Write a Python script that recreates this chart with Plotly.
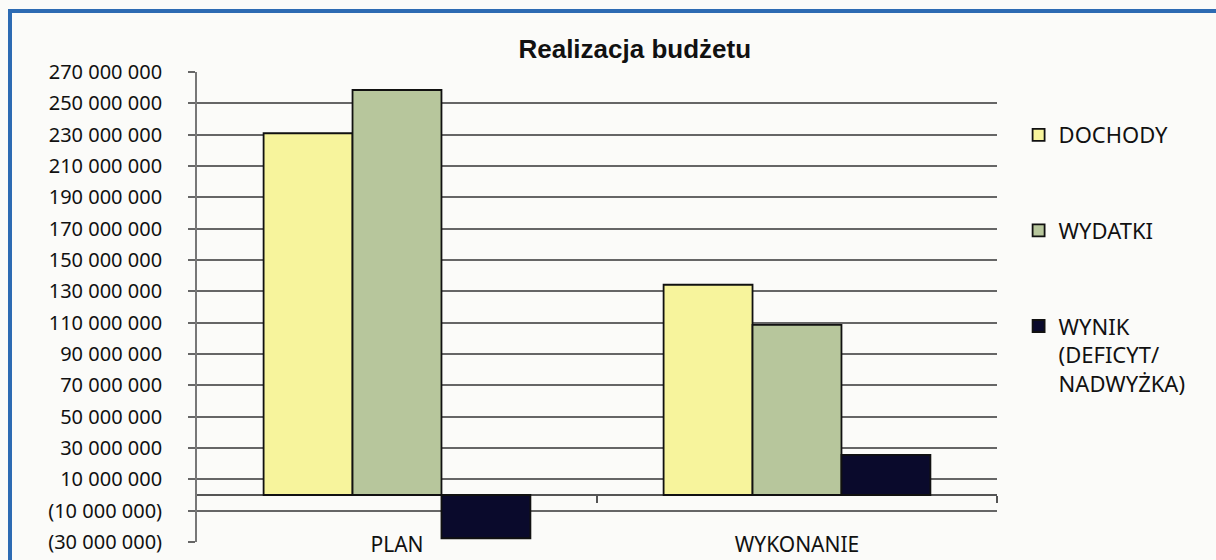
import plotly.graph_objects as go

categories = ["PLAN", "WYKONANIE"]
dochody = [230_900_000, 134_200_000]
wydatki = [258_500_000, 108_600_000]
wynik = [-27_600_000, 25_600_000]

series_names = ["DOCHODY", "WYDATKI", "WYNIK<br>(DEFICYT/<br>NADWYŻKA)"]
series_colors = ["#f7f49c", "#b7c69c", "#0a0a2c"]

y_tickvals = [270e6, 250e6, 230e6, 210e6, 190e6, 170e6, 150e6, 130e6, 110e6,
              90e6, 70e6, 50e6, 30e6, 10e6, -10e6, -30e6]
y_ticktext = ["270 000 000", "250 000 000", "230 000 000", "210 000 000",
              "190 000 000", "170 000 000", "150 000 000", "130 000 000",
              "110 000 000", "90 000 000", "70 000 000", "50 000 000",
              "30 000 000", "10 000 000", "(10 000 000)", "(30 000 000)"]

FONT = "Noto Sans"

fig = go.Figure()
for i, (name, vals, col) in enumerate(zip(series_names, [dochody, wydatki, wynik], series_colors)):
    fig.add_trace(go.Bar(
        x=categories, y=vals, name=name, legendgroup=f"g{i}",
        marker=dict(color=col, line=dict(color="#111111", width=1.8)),
    ))

# secondary axis only for the small category-boundary ticks on the zero line
fig.add_trace(go.Scatter(x=[], y=[], xaxis="x2", showlegend=False, hoverinfo="skip"))

plot_top, plot_bottom = 72, 542
H = 560
PH = plot_bottom - plot_top
zero_pos = 30 / 300

fig.update_layout(
    width=1216, height=560,
    margin=dict(l=197, r=219, t=plot_top, b=H - plot_bottom, autoexpand=False),
    paper_bgcolor="#fbfbf9", plot_bgcolor="#fbfbf9",
    barmode="group", bargap=0.333, bargroupgap=0,
    font=dict(family=FONT, size=22, color="#111111"),
    title=dict(text="<b>Realizacja budżetu</b>", x=0.522, xanchor="center",
               y=1 - 49 / H, yanchor="middle", yref="container",
               font=dict(family="Liberation Sans, Arial", size=26, color="#111111")),
    showlegend=True,
    legend=dict(x=1.027, xanchor="left", y=(plot_bottom - 114) / PH, yanchor="top",
                bgcolor="rgba(0,0,0,0)", traceorder="grouped",
                tracegroupgap=64, valign="top",
                font=dict(family=FONT, size=22, color="#111111")),
    xaxis=dict(type="category", showgrid=False, zeroline=False, showline=False,
               automargin=False,
               ticks="", tickfont=dict(family=FONT, size=21, color="#111111"),
               ticklabelstandoff=-12),
    xaxis2=dict(overlaying="x", anchor="free", position=zero_pos, range=[-0.5, 1.5],
                tickvals=[0.5, 1.5], ticks="outside", ticklen=7, tickwidth=1.5,
                tickcolor="#555555", showticklabels=False, showgrid=False,
                zeroline=False, showline=False, automargin=False),
    yaxis=dict(range=[-30e6, 270e6], tickvals=y_tickvals, ticktext=y_ticktext,
               automargin=False,
               showgrid=True, gridcolor="#666666", gridwidth=1.6,
               zeroline=True, zerolinecolor="#555555", zerolinewidth=1.8,
               showline=True, linecolor="#777777", linewidth=1.8,
               ticks="outside", ticklen=7, tickcolor="#666666", tickwidth=1.6,
               ticklabelstandoff=22,
               tickfont=dict(family=FONT, size=20, color="#111111")),
    shapes=[dict(type="rect", xref="paper", yref="paper",
                 x0=(10 - 197) / 800, x1=(1240 - 197) / 800,
                 y0=(plot_bottom - 590) / PH,
                 y1=(plot_bottom - 11) / PH,
                 line=dict(color="#2d6bb3", width=4), layer="below")],
)

fig.write_html("out.html", config={"displayModeBar": False},
               post_script="document.body.style.margin='0';document.body.style.overflow='hidden';")
